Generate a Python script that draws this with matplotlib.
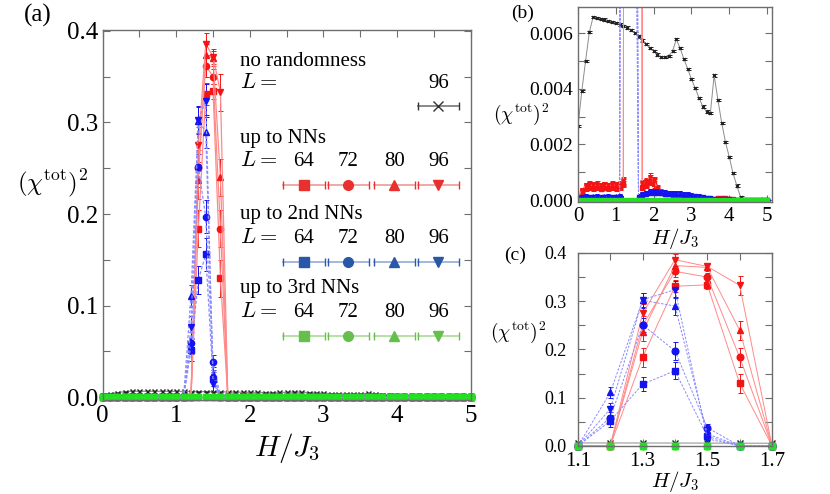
import numpy as np
import matplotlib
matplotlib.use("Agg")
import matplotlib.pyplot as plt
from matplotlib.ticker import MultipleLocator, FixedLocator, FormatStrFormatter

plt.rcParams.update({"font.family": "serif",
                     "font.serif": ["Liberation Serif", "Times New Roman", "DejaVu Serif"],
                     "mathtext.fontset": "cm",
                     "axes.linewidth": 1.0, "axes.edgecolor": "#6e6e6e"})

# field H/J3
H = [0.0, 0.1, 0.2, 0.3, 0.4, 0.5, 0.6, 0.7, 0.8, 0.9,
     1.0, 1.1, 1.2, 1.3, 1.4, 1.5, 1.6, 1.7, 1.8, 1.9,
     2.0, 2.1, 2.2, 2.3, 2.4, 2.5, 2.6, 2.7, 2.8, 2.9,
     3.0, 3.1, 3.2, 3.3, 3.4, 3.5, 3.6, 3.7, 3.8, 3.9,
     4.0, 4.1, 4.2, 4.3, 4.4, 4.5, 4.6, 4.7, 4.8, 4.9, 5.0]

# no randomness, L = 96
NR_96 = [0.00266, 0.00392, 0.00500, 0.00604, 0.00658, 0.00655, 0.00652, 0.00649, 0.00645, 0.00641,
         0.00636, 0.00631, 0.00626, 0.00620, 0.00612, 0.00601, 0.00588, 0.00574, 0.00562, 0.00548,
         0.00535, 0.00523, 0.00515, 0.00513, 0.00519, 0.00535, 0.00578, 0.00546, 0.00507, 0.00472,
         0.00435, 0.00402, 0.00368, 0.00336, 0.00318, 0.00312, 0.00448, 0.00360, 0.00278, 0.00208,
         0.00155, 0.00096, 0.00052, 0.00010, 0.0, 0.0, 0.0, 0.0, 0.0, 0.0, 0.0]
NR_ERR = 0.00004

# randomness up to NNs
NN_64 = [0.00010, 0.00028, 0.00044, 0.00047, 0.00043, 0.00046, 0.00041, 0.00045, 0.00042, 0.00047,
         0.00043, 0.00046, 0.00058, 0.184, 0.331, 0.334, 0.130, 0.00045, 0.00055, 0.00066,
         0.00056, 0.00036, 0.00026, 0.00022, 0.00020, 0.00018, 0.00016, 0.00015, 0.00013, 0.00011,
         0.00010, 0.00008, 0.00006, 0.00005, 0.00004, 0.00003, 0.00004, 0.00006, 0.00007, 0.00006,
         0.00004, 0.00002, 0.00001, 0.0, 0.0, 0.0, 0.0, 0.0, 0.0, 0.0, 0.0]
NN_72 = [0.00012, 0.00034, 0.00050, 0.00052, 0.00049, 0.00051, 0.00047, 0.00050, 0.00048, 0.00052,
         0.00049, 0.00051, 0.00063, 0.250, 0.362, 0.350, 0.184, 0.00050, 0.00060, 0.00072,
         0.00062, 0.00040, 0.00028, 0.00024, 0.00021, 0.00019, 0.00017, 0.00015, 0.00013, 0.00011,
         0.00009, 0.00007, 0.00006, 0.00005, 0.00004, 0.00003, 0.00004, 0.00005, 0.00006, 0.00005,
         0.00003, 0.00002, 0.00001, 0.0, 0.0, 0.0, 0.0, 0.0, 0.0, 0.0, 0.0]
NN_80 = [0.00009, 0.00031, 0.00047, 0.00055, 0.00050, 0.00053, 0.00049, 0.00054, 0.00051, 0.00055,
         0.00052, 0.00054, 0.00066, 0.237, 0.374, 0.370, 0.240, 0.00058, 0.00064, 0.00078,
         0.00066, 0.00042, 0.00029, 0.00023, 0.00020, 0.00018, 0.00016, 0.00014, 0.00012, 0.00010,
         0.00008, 0.00007, 0.00005, 0.00004, 0.00003, 0.00003, 0.00004, 0.00005, 0.00006, 0.00005,
         0.00003, 0.00002, 0.00001, 0.0, 0.0, 0.0, 0.0, 0.0, 0.0, 0.0, 0.0]
NN_96 = [0.00011, 0.00036, 0.00053, 0.00058, 0.00054, 0.00057, 0.00052, 0.00056, 0.00053, 0.00058,
         0.00055, 0.00058, 0.00070, 0.275, 0.386, 0.372, 0.333, 0.00062, 0.00068, 0.00084,
         0.00070, 0.00045, 0.00031, 0.00025, 0.00021, 0.00019, 0.00017, 0.00015, 0.00013, 0.00011,
         0.00009, 0.00007, 0.00006, 0.00005, 0.00004, 0.00003, 0.00004, 0.00006, 0.00008, 0.00007,
         0.00004, 0.00002, 0.00001, 0.0, 0.0, 0.0, 0.0, 0.0, 0.0, 0.0, 0.0]
NN_ERR = [0.00005, 0.00008, 0.00010, 0.00010, 0.00010, 0.00010, 0.00010, 0.00010, 0.00010, 0.00010,
          0.00010, 0.00010, 0.00012, 0.020, 0.012, 0.008, 0.020, 0.00010, 0.00012, 0.00012,
          0.00012, 0.00008, 0.00006, 0.00005, 0.00005, 0.00004, 0.00004, 0.00004, 0.00003, 0.00003,
          0.00003, 0.00002, 0.00002, 0.00002, 0.00002, 0.00002, 0.00002, 0.00002, 0.00002, 0.00002,
          0.00002, 0.00001, 0.00001, 0.0, 0.0, 0.0, 0.0, 0.0, 0.0, 0.0, 0.0]

# randomness up to 2nd NNs
NN2_64 = [0.00008, 0.00010, 0.00011, 0.00010, 0.00011, 0.00010, 0.00011, 0.00010, 0.00011, 0.00010,
          0.00011, 0.00012, 0.052, 0.128, 0.156, 0.020, 0.00012, 0.00018, 0.00022, 0.00026,
          0.00026, 0.00027, 0.00025, 0.00023, 0.00022, 0.00021, 0.00020, 0.00021, 0.00018, 0.00017,
          0.00016, 0.00014, 0.00012, 0.00010, 0.00008, 0.00006, 0.00005, 0.00004, 0.00003, 0.00003,
          0.00002, 0.00001, 0.00001, 0.0, 0.0, 0.0, 0.0, 0.0, 0.0, 0.0, 0.0]
NN2_72 = [0.00009, 0.00011, 0.00012, 0.00011, 0.00012, 0.00011, 0.00012, 0.00011, 0.00012, 0.00011,
          0.00012, 0.00013, 0.059, 0.251, 0.197, 0.038, 0.00013, 0.00020, 0.00025, 0.00029,
          0.00028, 0.00030, 0.00028, 0.00026, 0.00025, 0.00024, 0.00022, 0.00024, 0.00020, 0.00019,
          0.00018, 0.00015, 0.00013, 0.00010, 0.00008, 0.00006, 0.00005, 0.00004, 0.00003, 0.00003,
          0.00002, 0.00001, 0.00001, 0.0, 0.0, 0.0, 0.0, 0.0, 0.0, 0.0, 0.0]
NN2_80 = [0.00010, 0.00012, 0.00012, 0.00012, 0.00013, 0.00012, 0.00012, 0.00013, 0.00012, 0.00012,
          0.00013, 0.00013, 0.111, 0.302, 0.290, 0.025, 0.00012, 0.00022, 0.00026, 0.00031,
          0.00030, 0.00031, 0.00029, 0.00027, 0.00026, 0.00025, 0.00023, 0.00025, 0.00021, 0.00020,
          0.00018, 0.00016, 0.00013, 0.00011, 0.00009, 0.00007, 0.00005, 0.00004, 0.00003, 0.00003,
          0.00002, 0.00001, 0.00001, 0.0, 0.0, 0.0, 0.0, 0.0, 0.0, 0.0, 0.0]
NN2_96 = [0.00009, 0.00011, 0.00013, 0.00012, 0.00012, 0.00013, 0.00012, 0.00012, 0.00013, 0.00012,
          0.00012, 0.00014, 0.077, 0.303, 0.324, 0.015, 0.00011, 0.00021, 0.00027, 0.00032,
          0.00031, 0.00033, 0.00030, 0.00028, 0.00027, 0.00026, 0.00024, 0.00026, 0.00022, 0.00020,
          0.00019, 0.00016, 0.00014, 0.00011, 0.00009, 0.00007, 0.00005, 0.00004, 0.00003, 0.00003,
          0.00002, 0.00001, 0.00001, 0.0, 0.0, 0.0, 0.0, 0.0, 0.0, 0.0, 0.0]
NN2_ERR = [0.00002, 0.00002, 0.00002, 0.00002, 0.00002, 0.00002, 0.00002, 0.00002, 0.00002, 0.00002,
           0.00002, 0.00002, 0.012, 0.015, 0.018, 0.008, 0.00003, 0.00004, 0.00005, 0.00005,
           0.00005, 0.00005, 0.00005, 0.00004, 0.00004, 0.00004, 0.00004, 0.00004, 0.00004, 0.00003,
           0.00003, 0.00003, 0.00002, 0.00002, 0.00002, 0.00002, 0.00001, 0.00001, 0.00001, 0.00001,
           0.00001, 0.00001, 0.00001, 0.0, 0.0, 0.0, 0.0, 0.0, 0.0, 0.0, 0.0]

# randomness up to 3rd NNs (all four sizes sit on zero)
NN3_ALL = [0.0, 0.0, 0.0, 0.0, 0.0, 0.0, 0.0, 0.0, 0.0, 0.0,
           0.0, 0.0, 0.0, 0.0, 0.0, 0.0, 0.0, 0.0, 0.0, 0.0,
           0.0, 0.0, 0.0, 0.0, 0.0, 0.0, 0.0, 0.0, 0.0, 0.0,
           0.0, 0.0, 0.0, 0.0, 0.0, 0.0, 0.0, 0.0, 0.0, 0.0,
           0.0, 0.0, 0.0, 0.0, 0.0, 0.0, 0.0, 0.0, 0.0, 0.0, 0.0]

SIZES = ["64", "72", "80", "96"]
MARKERS = ["s", "o", "^", "v"]
GROUPS = ["up to NNs", "up to 2nd NNs", "up to 3rd NNs"]

RED, RED_L = "#f41414", "#ff8a8a"
BLUE, BLUE_L = "#1414f0", "#8a8aff"
GREEN, GREEN_L = "#22e022", "#55cc55"
KEY_COL = [("#e8302e", "#f09a98"), ("#2a58a8", "#93abd6"), ("#66bf4c", "#a9dc98")]


def series(ax, x, y, err, marker, col, lcol, ls, ms, lw, clip):
    c = ax.errorbar(x, y, yerr=err, fmt=marker, ls=ls, color=lcol, mfc=col, mec=col,
                    ecolor=col, ms=ms, lw=lw, elinewidth=0.7, capsize=1.8, capthick=0.7)
    if not clip:
        for art in c.get_children():
            art.set_clip_on(False)


def draw(ax, ms, lw, lo=None, hi=None, clip=True):
    h = np.array(H)
    m = np.ones(len(h), bool)
    if lo is not None:
        m = (h > lo - 1e-9) & (h < hi + 1e-9)
    x = h[m]
    series(ax, x, np.array(NR_96)[m], NR_ERR, "x", "#222222", "#8c8c8c", "-", ms * 0.8, lw, clip)
    for y, mk in zip([NN_64, NN_72, NN_80, NN_96], MARKERS):
        series(ax, x, np.array(y)[m], np.array(NN_ERR)[m], mk, RED, RED_L, "-", ms, lw, clip)
    for y, mk in zip([NN2_64, NN2_72, NN2_80, NN2_96], MARKERS):
        series(ax, x, np.array(y)[m], np.array(NN2_ERR)[m], mk, BLUE, BLUE_L, (0, (2.5, 1.5)), ms, lw, clip)
    for mk in MARKERS:
        series(ax, x, np.array(NN3_ALL)[m], None, mk, GREEN, GREEN_L, "-", ms, lw, clip)


def ticks(ax, size):
    ax.tick_params(which="both", direction="in", top=True, right=True, colors="#6e6e6e",
                   labelcolor="black", labelsize=size, width=0.8)
    ax.tick_params(which="major", length=5)
    ax.tick_params(which="minor", length=5)


def key_sample(ax, xc, yc, col, lcol, marker):
    w = 0.056
    ax.plot([xc - w, xc + w], [yc, yc], color=lcol, lw=1.2, transform=ax.transAxes)
    ax.plot([xc - w, xc + w], [yc, yc], ls="none", marker="|", ms=6, mew=1.0, color=col,
            transform=ax.transAxes)
    ax.plot([xc], [yc], ls="none", marker=marker, ms=7, color=col, transform=ax.transAxes)


fig = plt.figure(figsize=(8.3, 4.94), dpi=100)

# ---- panel (a)
ax = fig.add_axes([0.1237, 0.1903, 0.4434, 0.7490])
draw(ax, 4.5, 0.9, clip=False)
ax.set_xlim(0, 5)
ax.set_ylim(-0.003, 0.401)
ax.xaxis.set_major_locator(MultipleLocator(1))
ax.xaxis.set_minor_locator(MultipleLocator(0.5))
ax.yaxis.set_major_locator(MultipleLocator(0.1))
ax.yaxis.set_minor_locator(MultipleLocator(0.05))
ax.yaxis.set_major_formatter(FormatStrFormatter("%.1f"))
ticks(ax, 18)
ax.set_xlabel(r"$H/J_3$", fontsize=21, labelpad=3)
fig.text(0.064, 0.630, r"$(\chi^{\rm tot})^2$", fontsize=18, ha="center", va="center")
fig.text(0.045, 0.968, "(a)", fontsize=18, ha="center", va="center")

# hand-drawn key, laid out like the original
tx = 0.373
num_x = [0.547, 0.667, 0.792, 0.9125]
ax.text(tx, 0.916, "no randomness", transform=ax.transAxes, fontsize=15, va="center")
ax.text(tx, 0.856, r"$L =$", transform=ax.transAxes, fontsize=16, va="center")
ax.text(num_x[3], 0.856, "96", transform=ax.transAxes, fontsize=15, va="center", ha="center")
key_sample(ax, num_x[3], 0.795, "#333333", "#777777", "x")
for g, (name, (col, lcol), ys) in enumerate(zip(GROUPS, KEY_COL, [0.708, 0.500, 0.300])):
    ax.text(tx, ys, name, transform=ax.transAxes, fontsize=15, va="center")
    ax.text(tx, ys - 0.063, r"$L =$", transform=ax.transAxes, fontsize=16, va="center")
    for xc, s, mk in zip(num_x, SIZES, MARKERS):
        ax.text(xc, ys - 0.063, s, transform=ax.transAxes, fontsize=15, va="center", ha="center")
        key_sample(ax, xc, ys - 0.127, col, lcol, mk)

# ---- panel (b)
bx = fig.add_axes([0.6964, 0.5911, 0.2337, 0.3947])
draw(bx, 2.6, 0.7)
bx.set_xlim(0, 5.13)
bx.set_ylim(-0.00007, 0.00694)
bx.xaxis.set_major_locator(MultipleLocator(1))
bx.yaxis.set_major_locator(MultipleLocator(0.002))
bx.yaxis.set_minor_locator(MultipleLocator(0.001))
bx.yaxis.set_major_formatter(FormatStrFormatter("%.3f"))
ticks(bx, 14)
bx.tick_params(axis="x", labelsize=15)
bx.set_xlabel(r"$H/J_3$", fontsize=15, labelpad=0)
fig.text(0.628, 0.769, r"$(\chi^{\rm tot})^2$", fontsize=14, ha="center", va="center")
fig.text(0.630, 0.972, "(b)", fontsize=14, ha="center", va="center")

# ---- panel (c)
cx = fig.add_axes([0.6964, 0.0972, 0.2337, 0.3907])
draw(cx, 4.8, 0.7, lo=1.1, hi=1.7, clip=False)
cx.set_xlim(1.1, 1.7)
cx.set_ylim(0, 0.4)
cx.xaxis.set_major_locator(FixedLocator([1.1, 1.3, 1.5, 1.7]))
cx.xaxis.set_minor_locator(MultipleLocator(0.1))
cx.yaxis.set_major_locator(MultipleLocator(0.1))
cx.yaxis.set_minor_locator(MultipleLocator(0.05))
cx.xaxis.set_major_formatter(FormatStrFormatter("%.1f"))
cx.yaxis.set_major_formatter(FormatStrFormatter("%.1f"))
ticks(cx, 13)
cx.tick_params(axis="y", pad=8)
cx.tick_params(axis="x", labelsize=15, pad=4)
cx.set_xlabel(r"$H/J_3$", fontsize=15, labelpad=-1)
fig.text(0.624, 0.328, r"$(\chi^{\rm tot})^2$", fontsize=14, ha="center", va="center")
fig.text(0.621, 0.484, "(c)", fontsize=14, ha="center", va="center")

fig.savefig("out.png", dpi=100)
